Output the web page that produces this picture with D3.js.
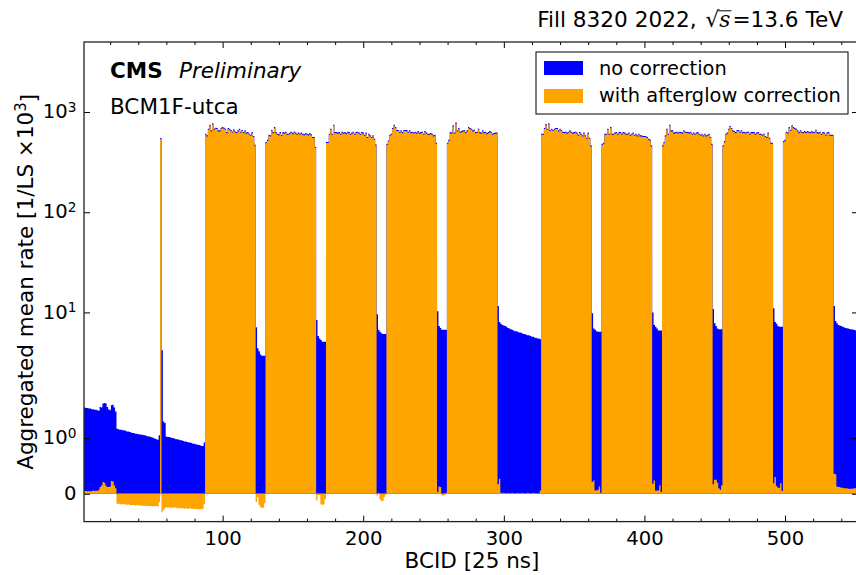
<!DOCTYPE html>
<html>
<head>
<meta charset="utf-8">
<script src="https://cdn.jsdelivr.net/npm/d3@7"></script>
<style>
  body { margin: 0; background: #fff; }
  svg { display: block; font-family: "DejaVu Sans", sans-serif; }
</style>
</head>
<body>
<svg id="chart" width="856" height="575"></svg>
<script>
// BCID 1..87: empty bunches before the first train (BCID 56 is a single filled bunch)
var leadRaw = [1.55,1.55,1.54,1.54,1.53,1.53,1.52,1.52,1.51,1.51,1.50,1.49,
  1.56,1.55,1.62,1.63,1.62,1.56,1.52,1.50,1.59,1.60,1.55,1.48,
  1.17,1.16,1.15,1.15,1.14,1.14,1.13,1.12,1.12,1.11,1.10,1.09,
  1.09,1.08,1.08,1.07,1.07,1.06,1.06,1.05,1.05,1.04,1.03,1.03,
  1.02,1.01,1.00,0.99,0.98,0.97,1.05,
  551,
  4.2,1.30,1.27,
  1.03,1.02,1.02,1.01,1.00,1.00,0.99,0.98,0.98,0.97,0.96,0.96,
  0.95,0.94,0.94,0.93,0.92,0.92,0.91,0.90,0.90,0.89,0.88,0.88,
  0.87,0.86,0.86,0.92];
var leadCorr = [0.04,0.05,0.05,0.04,0.05,0.04,0.05,0.06,0.05,0.06,0.05,0.07,
  0.12,0.15,0.21,0.20,0.15,0.12,0.12,0.13,0.23,0.22,0.15,0.10,
  -0.18,-0.18,-0.19,-0.19,-0.19,-0.19,-0.19,-0.20,-0.19,-0.20,-0.20,-0.20,
  -0.20,-0.21,-0.20,-0.21,-0.21,-0.21,-0.22,-0.21,-0.22,-0.22,-0.22,-0.22,
  -0.22,-0.23,-0.22,-0.23,-0.22,-0.23,-0.15,
  537,
  -0.33,-0.29,-0.26,
  -0.24,-0.25,-0.24,-0.25,-0.25,-0.25,-0.24,-0.26,-0.25,-0.26,-0.26,-0.26,
  -0.26,-0.27,-0.26,-0.27,-0.27,-0.26,-0.27,-0.27,-0.28,-0.27,-0.28,-0.28,
  -0.28,-0.28,-0.27,-0.18];

// 36-bunch trains, no correction
var trainRaw = [
  [608,585,682,748,657,772,682,698,694,657,657,698,
   708,698,682,631,694,682,662,641,672,641,631,657,
   682,636,662,631,657,623,631,608,594,631,577,472],
  [503,528,594,585,662,631,708,631,608,599,631,594,
   631,623,636,608,608,623,636,616,641,623,608,623,
   608,623,608,599,616,608,599,616,599,563,563,448],
  [503,503,608,682,608,748,631,631,623,631,608,636,
   623,631,616,636,631,608,623,636,608,631,636,623,
   608,631,623,594,623,563,608,585,563,585,542,475],
  [482,521,594,608,694,748,708,662,662,636,657,631,
   662,662,662,636,657,631,636,623,636,623,646,623,
   631,636,608,646,623,608,608,616,608,585,594,494],
  [494,528,631,623,737,623,784,657,694,636,646,657,
   657,631,657,708,694,682,657,667,631,636,682,631,
   623,657,631,636,616,631,646,636,608,616,623,623],
  [608,608,694,759,682,772,662,682,662,682,694,694,
   657,682,662,636,631,636,623,636,657,636,623,631,
   636,623,594,631,608,585,623,585,554,623,554,465],
  [482,494,608,608,682,608,708,608,608,623,631,608,
   631,631,608,631,623,608,608,623,594,608,623,594,
   608,585,608,585,585,577,577,577,563,542,531,465],
  [465,503,585,682,608,748,657,657,623,631,636,623,
   636,631,623,657,636,636,631,623,636,608,623,608,
   623,631,608,594,608,585,608,585,594,608,563,482],
  [465,513,608,623,682,725,694,657,646,631,662,662,
   636,657,631,636,623,636,636,608,631,631,631,608,
   623,631,608,608,594,608,577,563,623,554,494,494],
  [513,528,636,623,708,667,737,708,694,682,657,631,
   657,636,631,646,631,646,636,631,646,631,636,667,
   631,623,636,608,631,623,594,623,631,594,594,594]
];
// 36-bunch trains, with afterglow correction
var trainCorr = [
  [593,570,665,729,640,752,665,680,676,640,640,680,
   690,680,665,615,676,665,645,625,655,625,615,640,
   665,620,645,615,640,607,615,593,579,615,562,460],
  [490,515,579,570,645,615,690,615,593,584,615,579,
   615,607,620,593,593,607,620,600,625,607,593,607,
   593,607,593,584,600,593,584,600,584,549,549,437],
  [490,490,593,665,593,729,615,615,607,615,593,620,
   607,615,600,620,615,593,607,620,593,615,620,607,
   593,615,607,579,607,549,593,570,549,570,528,463],
  [470,508,579,593,676,729,690,645,645,620,640,615,
   645,645,645,620,640,615,620,607,620,607,630,607,
   615,620,593,630,607,593,593,600,593,570,579,482],
  [482,515,615,607,718,607,764,640,676,620,630,640,
   640,615,640,690,676,665,640,650,615,620,665,615,
   607,640,615,620,600,615,630,620,593,600,607,607],
  [593,593,676,740,665,752,645,665,645,665,676,676,
   640,665,645,620,615,620,607,620,640,620,607,615,
   620,607,579,615,593,570,607,570,540,607,540,453],
  [470,482,593,593,665,593,690,593,593,607,615,593,
   615,615,593,615,607,593,593,607,579,593,607,579,
   593,570,593,570,570,562,562,562,549,528,518,453],
  [453,490,570,665,593,729,640,640,607,615,620,607,
   620,615,607,640,620,620,615,607,620,593,607,593,
   607,615,593,579,593,570,593,570,579,593,549,470],
  [453,500,593,607,665,707,676,640,630,615,645,645,
   620,640,615,620,607,620,620,593,615,615,615,593,
   607,615,593,593,579,593,562,549,607,540,482,482],
  [500,515,620,607,690,650,718,690,676,665,640,615,
   640,620,615,630,615,630,620,615,630,615,620,650,
   615,607,620,593,615,607,579,607,615,579,579,579]
];

// empty bunches after each train (7, 7, 7, 7, 31, 7, 7, 7, 7, tail 17)
var gapRaw = [
  [7.1,4.4,4.1,3.8,3.7,3.7,3.7],
  [8.4,5.8,5.5,5.3,5.1,5.1,5.1],
  [9.6,6.7,6.4,6.2,6.1,6.1,6.1],
  [10.3,7.3,7.0,6.7,6.7,6.7,6.7],
  [11.6,8.0,7.7,7.5,7.4,7.3,7.2,7.0,6.9,6.8,6.7,6.6,6.5,6.5,6.4,6.3,
   6.3,6.2,6.1,6.1,6.0,5.9,5.9,5.8,5.7,5.7,5.6,5.6,5.5,5.5,5.4],
  [9.8,6.9,6.7,6.5,6.4,6.4,6.4],
  [10.0,7.5,7.2,6.9,6.6,6.6,6.6],
  [10.8,7.8,7.3,6.9,6.8,6.8,6.8],
  [11.0,8.0,7.7,7.3,7.2,7.2,7.2],
  [11.6,8.2,7.8,7.5,7.4,7.3,7.2,7.1,7.0,6.95,6.9,6.85,6.8,6.75,6.7,6.65,6.6]
];
var gapCorr = [
  [-0.15,-0.06,-0.20,-0.24,-0.25,-0.25,-0.17],
  [-0.12,-0.02,-0.02,-0.19,-0.20,-0.19,-0.10],
  [-0.03,0.02,-0.10,-0.13,-0.13,-0.06,-0.02],
  [0.03,0.13,0.12,-0.03,-0.03,-0.02,0.02],
  [0.17,0.27,0.02,0.01,0.02,0.01,0.01,0.02,0.01,0.01,0.02,0.01,0.01,0.01,0.02,0.01,
   0.01,0.02,0.01,0.01,0.01,0.02,0.01,0.01,0.01,0.02,0.01,0.01,0.01,0.01,0.06],
  [0.21,0.24,0.06,0.06,0.07,0.13,0.02],
  [0.18,0.24,0.06,0.06,0.06,0.15,0.03],
  [0.17,0.25,0.25,0.20,0.10,0.07,0.15],
  [0.19,0.30,0.14,0.11,0.11,0.19,0.05],
  [0.36,0.35,0.13,0.12,0.12,0.11,0.11,0.10,0.10,0.10,0.09,0.09,0.09,0.09,0.10,0.10,0.10]
];

var xMajor = [100, 200, 300, 400, 500];
var xMinor = [20,40,60,80,120,140,160,180,220,240,260,280,320,340,360,380,420,440,460,480,520,540];
var yTicks = [0, 1, 10, 100, 1000];
var yTickExp = [null, "0", "1", "2", "3"];
var seriesNames = ["no correction", "with afterglow correction"];
var seriesColors = ["#0000ff", "#ffa500"];

// put the BCID series together in order
var raw = leadRaw.slice(), corr = leadCorr.slice();
for (var k = 0; k < trainRaw.length; k++) {
  raw = raw.concat(trainRaw[k], gapRaw[k]);
  corr = corr.concat(trainCorr[k], gapCorr[k]);
}
var data = raw.map(function(r, i) { return {bcid: i + 1, raw: r, corr: corr[i]}; });

// matplotlib style symlog (linthresh 2, linscale 1)
var linthresh = 2, linAdj = 1 / (1 - 1 / 10);
function symlog(v) {
  var a = Math.abs(v);
  if (a <= linthresh) return v * linAdj;
  return Math.sign(v) * linthresh * (linAdj + Math.log10(a / linthresh));
}

var margin = {top: 42, left: 84},
    width = 774,
    height = 479.6;

var svg = d3.select("#chart");
var g = svg.append("g")
  .attr("transform", "translate(" + margin.left + "," + margin.top + ")");

var x = d3.scaleLinear().domain([1.4, 551.9]).range([0, width]);
var y = d3.scaleLinear().domain([symlog(-0.5), symlog(5000)]).range([height, 0]);
function yv(v) { return y(symlog(v)); }

g.append("clipPath").attr("id", "clip")
  .append("rect").attr("width", width).attr("height", height);

var plot = g.append("g").attr("clip-path", "url(#clip)");

// bars as one stepped outline per series (avoids seams between 1-BCID bars)
function drawBars(key, color) {
  var pts = data.map(function(d) { return {edge: d.bcid - 0.5, v: d[key]}; });
  var last = data[data.length - 1];
  pts.push({edge: last.bcid + 0.5, v: last[key]});
  var area = d3.area()
    .curve(d3.curveStepAfter)
    .x(function(p) { return x(p.edge); })
    .y0(yv(0))
    .y1(function(p) { return yv(p.v); });
  plot.append("path").datum(pts).attr("d", area).attr("fill", color);
}
drawBars("raw", seriesColors[0]);
drawBars("corr", seriesColors[1]);

// axes, ticks pointing inward on all four sides
function styleAxis(sel) {
  sel.select(".domain").remove();
  sel.selectAll(".tick line").attr("stroke", "#000").attr("stroke-width", 1);
  sel.selectAll(".tick text").attr("fill", "#000")
    .style("font-family", "DejaVu Sans").style("font-size", "19.6px");
}

var gx = g.append("g").attr("transform", "translate(0," + height + ")")
  .call(d3.axisBottom(x).tickValues(xMajor).tickSize(-6).tickPadding(9));
styleAxis(gx);
var gxm = g.append("g").attr("transform", "translate(0," + height + ")")
  .call(d3.axisBottom(x).tickValues(xMinor).tickSize(-3).tickFormat(""));
styleAxis(gxm);
var gt = g.append("g").call(d3.axisTop(x).tickValues(xMajor).tickSize(-6).tickFormat(""));
styleAxis(gt);
var gtm = g.append("g").call(d3.axisTop(x).tickValues(xMinor).tickSize(-3).tickFormat(""));
styleAxis(gtm);

var gy = g.append("g")
  .call(d3.axisLeft(y).tickValues(yTicks.map(symlog)).tickSize(-6).tickPadding(7.5));
styleAxis(gy);
gy.selectAll(".tick text").attr("dy", "0.29em").each(function(d, i) {
  var t = d3.select(this);
  t.text(null);
  if (yTickExp[i] === null) { t.text("0"); return; }
  t.append("tspan").text("10");
  t.append("tspan").attr("dy", "-0.45em").style("font-size", "13.7px").text(yTickExp[i]);
});
var gr = g.append("g").attr("transform", "translate(" + width + ",0)")
  .call(d3.axisRight(y).tickValues(yTicks.map(symlog)).tickSize(-6).tickFormat(""));
styleAxis(gr);

// spines
g.append("rect")
  .attr("width", width).attr("height", height)
  .attr("fill", "none").attr("stroke", "#222").attr("stroke-width", 1.3);

// axis labels
svg.append("text")
  .attr("x", 472).attr("y", 568)
  .attr("text-anchor", "middle")
  .style("font-size", "21.5px")
  .text("BCID [25 ns]");

var ylab = svg.append("text")
  .attr("transform", "translate(33," + (margin.top + height / 2) + ") rotate(-90)")
  .attr("text-anchor", "middle")
  .style("font-size", "21.5px");
ylab.append("tspan").text("Aggregated mean rate [1/LS \u00d710");
ylab.append("tspan").attr("dy", "-0.45em").style("font-size", "15px").text("3");
ylab.append("tspan").attr("dy", "0.45em").text("]");

// title top right: measure it and place its right end at x = 843
var title = svg.append("text")
  .attr("y", 27)
  .style("font-size", "21.6px");
title.append("tspan").text("Fill 8320 2022,");
title.append("tspan").attr("dx", 9).text("\u221a");
title.append("tspan").style("font-family", "DejaVu Serif").style("font-style", "italic").text("s");
title.append("tspan").attr("dx", 2).text("=13.6 TeV");
var titleLen = title.node().getComputedTextLength() + 11;
title.attr("x", 843 - titleLen);
var sBox = title.node().getExtentOfChar(16);
svg.append("line")
  .attr("x1", sBox.x - 1).attr("x2", sBox.x + sBox.width + 1)
  .attr("y1", 27 - 16.2).attr("y2", 27 - 16.2)
  .attr("stroke", "#000").attr("stroke-width", 1);

// CMS labels
var cms = svg.append("text").attr("x", 110).attr("y", 78).style("font-size", "21.5px");
cms.append("tspan").style("font-weight", "bold").text("CMS");
cms.append("tspan").attr("x", 179).style("font-style", "italic").text("Preliminary");
svg.append("text").attr("x", 110).attr("y", 114).style("font-size", "21.5px").text("BCM1F-utca");

// legend
var legend = svg.append("g");
legend.append("rect")
  .attr("x", 536).attr("y", 52).attr("width", 312).attr("height", 62)
  .attr("fill", "#fff").attr("stroke", "#000").attr("stroke-width", 1);
seriesNames.forEach(function(name, i) {
  legend.append("rect")
    .attr("x", 544).attr("y", 61 + i * 28).attr("width", 39).attr("height", 14)
    .attr("fill", seriesColors[i]);
  legend.append("text")
    .attr("x", 599).attr("y", 74.5 + i * 27.5)
    .style("font-size", "19.4px")
    .text(name);
});
</script>
</body>
</html>
